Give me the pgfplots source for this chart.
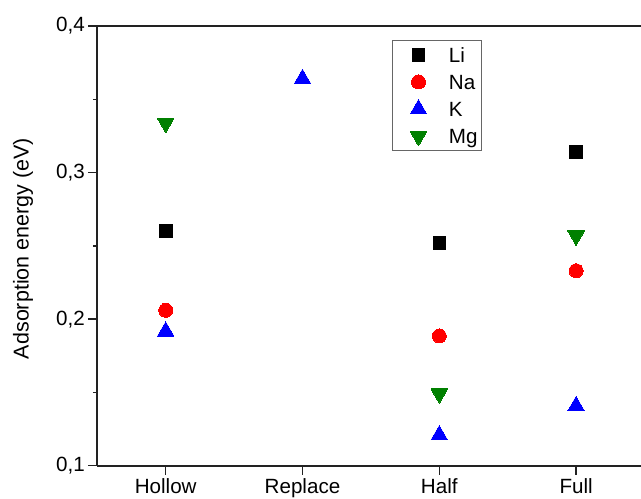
\documentclass[border=0pt]{standalone}
\usepackage{fontspec}
\setmainfont{Liberation Sans}
\usepackage{pgfplots}
\pgfplotsset{compat=1.18}

\definecolor{axisgray}{HTML}{222222}
\definecolor{mggreen}{HTML}{008000}

\newcommand{\lblfont}{\fontsize{20.6bp}{24bp}\selectfont}

\begin{document}
\begin{tikzpicture}
\useasboundingbox (0,0) rectangle (641bp,499bp);
\begin{axis}[
  at={(97.3bp,33.3bp)}, anchor=south west,
  scale only axis,
  width=547.2bp, height=439.7bp,
  xmin=-0.5, xmax=3.5,
  ymin=0.1, ymax=0.4,
  axis x line*=box, axis y line*=left,
  axis line style={axisgray, line width=1.6bp},
  every tick/.style={axisgray, line width=1.4bp},
  tick align=outside,
  major tick length=9bp, minor tick length=4.5bp,
  xtick={0,1,2,3},
  xticklabels={Hollow,Replace,Half,Full},
  xtick pos=left,
  ytick={0.1,0.2,0.3,0.4},
  minor y tick num=1,
  ytick pos=left,
  tick label style={font=\lblfont},
  /pgf/number format/.cd, fixed, fixed zerofill, precision=1, use comma, assume math mode=true,
  /pgfplots/.cd,
  ylabel={Adsorption energy (eV)},
  ylabel style={at={(axis description cs:-0.117,0.494)}, anchor=south, inner sep=0pt,
    font=\fontsize{21.5bp}{25bp}\selectfont},
  legend image code/.code={
    \path (0bp,-10bp) (34bp,10bp);
    \draw[#1, only marks] plot coordinates {(22bp,0bp)};
  },
  legend cell align=left,
  legend style={
    at={(0.538,0.968)}, anchor=north west,
    draw=gray!80!black, line width=0.8bp,
    inner xsep=4bp, inner ysep=4bp,
    row sep=6.3bp, column sep=18bp,
    font=\lblfont,
    nodes={inner sep=0pt, text height=14.7bp, text depth=0pt},
  },
]
% Li
\addplot[only marks, mark=square*, mark size=6.3bp,
  mark options={fill=black, draw=black, line width=0pt}]
  coordinates {(0,0.260) (2,0.252) (3,0.314)};
\addlegendentry{Li}
% Na
\addplot[only marks, mark=*, mark size=7bp,
  mark options={fill=red, draw=red, line width=0pt}]
  coordinates {(0,0.206) (2,0.1885) (3,0.233)};
\addlegendentry{Na}
% K
\addplot[only marks, mark=triangle*, mark size=9.5bp,
  mark options={fill=blue, draw=blue, line width=0pt}]
  coordinates {(0,0.1917) (1,0.364) (2,0.1209) (3,0.1408)};
\addlegendentry{K}
% Mg
\addplot[only marks, mark=triangle*, mark size=9.5bp,
  mark options={fill=mggreen, draw=mggreen, line width=0pt, rotate=180}]
  coordinates {(0,0.3338) (2,0.1491) (3,0.2569)};
\addlegendentry{Mg}
\end{axis}
\end{tikzpicture}
\end{document}
